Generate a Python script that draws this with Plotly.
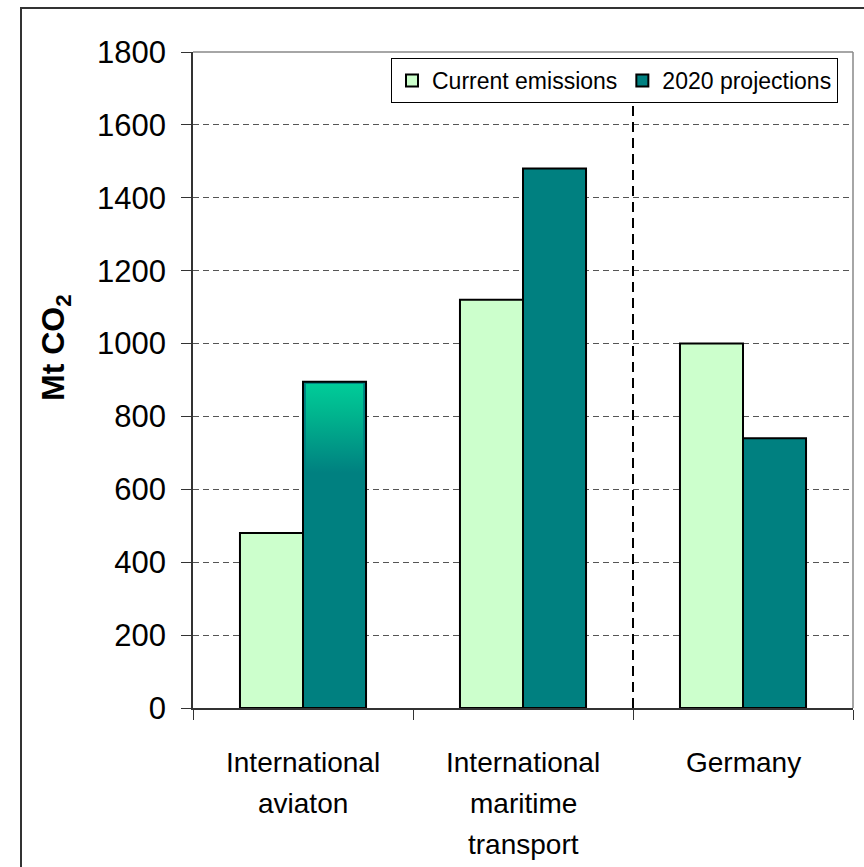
import base64
import plotly.graph_objects as go

categories = ["International aviaton", "International maritime transport", "Germany"]
current_emissions = [480, 1120, 1000]
projections_2020 = [895, 1480, 740]
series_names = ["Current emissions", "2020 projections"]
y_ticks = [0, 200, 400, 600, 800, 1000, 1200, 1400, 1600, 1800]

FONT = "Arial, 'Liberation Sans', sans-serif"
LIGHT = "#CCFFCC"
TEAL = "#008080"

fig = go.Figure()
fig.add_trace(go.Bar(x=categories, y=current_emissions, name=series_names[0],
                     marker=dict(color=LIGHT, line=dict(color="black", width=2))))
fig.add_trace(go.Bar(x=categories, y=projections_2020, name=series_names[1],
                     marker=dict(color=TEAL, line=dict(color="black", width=2))))

BARGAP = 0.427
bar_w = (1 - BARGAP) / 2
plot_h = 656

# gradient highlight on the top of the aviation projection bar
svg = ('<svg xmlns="http://www.w3.org/2000/svg" width="10" height="100" preserveAspectRatio="none">'
       '<defs><linearGradient id="g" x1="0" y1="0" x2="0" y2="1">'
       '<stop offset="0" stop-color="#00CC99"/><stop offset="0.35" stop-color="#00B48E"/>'
       '<stop offset="1" stop-color="#008080"/></linearGradient></defs>'
       '<rect width="10" height="100" fill="url(#g)"/></svg>')
src = "data:image/svg+xml;base64," + base64.b64encode(svg.encode()).decode()
top = projections_2020[0] - 5
fig.add_layout_image(source=src, xref="x", yref="y", x=0.012, y=top,
                     sizex=bar_w - 0.024, sizey=top - 645, xanchor="left", yanchor="top",
                     sizing="stretch", layer="above")

anns = []
for i, cat in enumerate(categories):
    for j, line in enumerate(cat.split(" ")):
        px_below = 54 + 41.5 * j
        anns.append(dict(x=i, xref="x", y=-px_below / plot_h, yref="paper", text=line,
                         showarrow=False, font=dict(family=FONT, size=28, color="black"),
                         xanchor="center", yanchor="middle"))
anns.append(dict(x=(55 - 193) / 660, xref="paper", y=(708 - 348) / plot_h, yref="paper",
                 text="<b>Mt CO<sub>2</sub></b>", textangle=-90, showarrow=False,
                 font=dict(family=FONT, size=32, color="black"), xanchor="center", yanchor="middle"))

shapes = [
    dict(type="line", xref="x", yref="paper", x0=1.5, x1=1.5, y0=0, y1=1,
         line=dict(color="black", width=2, dash="10px,6px")),
    dict(type="line", xref="paper", yref="paper", x0=0, x1=1, y0=1, y1=1,
         line=dict(color="#888888", width=1.5)),
    dict(type="line", xref="paper", yref="paper", x0=1, x1=1, y0=0, y1=1,
         line=dict(color="#888888", width=1.5)),
    dict(type="rect", xref="paper", yref="paper", x0=(21 - 193) / 660, x1=2,
         y0=-2, y1=(708 - 8) / plot_h, line=dict(color="#333333", width=2), layer="below"),
]

fig.update_layout(
    width=864, height=867,
    margin=dict(l=193, r=11, t=52, b=159),
    paper_bgcolor="white", plot_bgcolor="white",
    barmode="group", bargap=BARGAP, bargroupgap=0,
    font=dict(family=FONT, color="black"),
    showlegend=True,
    legend=dict(orientation="h", x=(391 - 193) / 660, y=(708 - 58) / plot_h,
                xanchor="left", yanchor="top", bgcolor="white",
                bordercolor="black", borderwidth=1,
                font=dict(family=FONT, size=23, color="black")),
    annotations=anns,
    shapes=shapes,
)
fig.update_xaxes(showticklabels=False, ticks="outside", tickson="boundaries", ticklen=10,
                 tickcolor="#333333", showline=True, linecolor="#333333", linewidth=1.5,
                 showgrid=False)
fig.update_yaxes(range=[0, 1800], tickvals=y_ticks, ticks="outside", ticklen=10,
                 tickcolor="#333333", showline=True, linecolor="#333333", linewidth=1.5,
                 showgrid=True, gridcolor="#555555", gridwidth=1, griddash="6px,4px",
                 zeroline=False, tickfont=dict(family=FONT, size=31, color="black"),
                 ticklabelstandoff=9)

fig.write_html("out.html", config={"displayModeBar": False},
               post_script="document.body.style.margin='0';")
